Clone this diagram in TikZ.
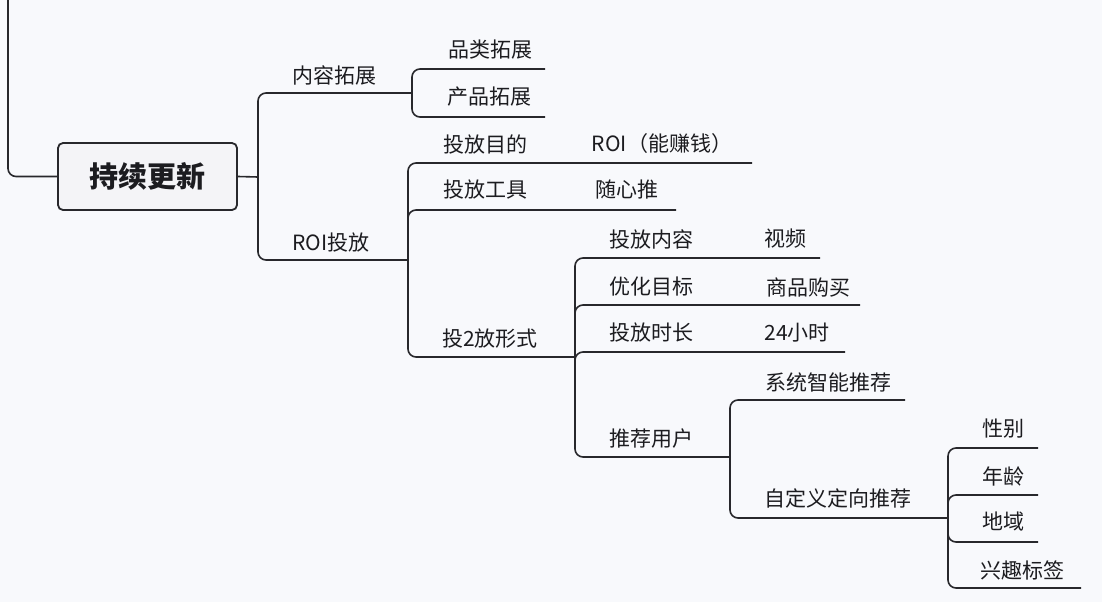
\documentclass[tikz,border=0pt]{standalone}
\usepackage{fontspec}
\setmainfont{Noto Sans CJK SC}
\definecolor{bgc}{RGB}{248,249,252}
\definecolor{linec}{RGB}{40,40,44}
\definecolor{txtc}{RGB}{28,28,32}
\definecolor{boxfill}{RGB}{244,244,247}
\begin{document}
\begin{tikzpicture}[x=1pt,y=-1pt,
  conn/.style={draw=linec, line width=1.6pt, rounded corners=8pt},
  lbl/.style={font=\fontsize{21pt}{25pt}\selectfont, text=txtc, inner sep=0pt},
  rootbox/.style={draw=linec, line width=1.8pt, fill=boxfill, rounded corners=5pt,
    minimum width=179pt, minimum height=67pt, inner sep=0pt,
    font=\fontsize{29pt}{34pt}\selectfont\bfseries, text=txtc}]
\useasboundingbox (0,0) rectangle (1102,602);
\fill[bgc] (0,0) rectangle (1102,602);
% root
\node[rootbox] (root) at (147.5,176.5) {持续更新};
\coordinate (ltop) at (8,-3);
\draw[conn] (ltop) |- (root.west);
\coordinate (j0) at (258,177);
\draw[conn] (root.east) -- (j0);
% level 1
\node[lbl] (nrtz) at (334,75) {内容拓展};
\coordinate (enrtz) at (412,93);
\draw[conn] (j0) |- (enrtz);
\node[lbl] (roitf) at (331,243) {ROI投放};
\coordinate (eroitf) at (408,260);
\draw[conn] (j0) |- (eroitf);
% children of 内容拓展
\node[lbl] (pltz) at (490,50) {品类拓展};
\coordinate (epltz) at (545,69);
\draw[conn] (enrtz) |- (epltz);
\node[lbl] (cptz) at (489,97) {产品拓展};
\coordinate (ecptz) at (545,117);
\draw[conn] (enrtz) |- (ecptz);
% children of ROI投放
\node[lbl] (tfmd) at (485,144) {投放目的};
\node[lbl] (roi) at (662,144) {ROI（能赚钱）};
\coordinate (etfmd) at (752,163);
\draw[conn] (eroitf) |- (etfmd);
\node[lbl] (tfgj) at (485,190) {投放工具};
\node[lbl] (sxt) at (627,190) {随心推};
\coordinate (etfgj) at (676,210);
\draw[conn] (eroitf) |- (etfgj);
\node[lbl] (tfxs) at (490,339) {投2放形式};
\coordinate (etfxs) at (575,357);
\draw[conn] (eroitf) |- (etfxs);
% children of 投2放形式
\node[lbl] (tfnr) at (651,239) {投放内容};
\node[lbl] (sp) at (785,239) {视频};
\coordinate (etfnr) at (820,258);
\draw[conn] (etfxs) |- (etfnr);
\node[lbl] (yhmb) at (651,287) {优化目标};
\node[lbl] (spgm) at (808,287) {商品购买};
\coordinate (eyhmb) at (860,305);
\draw[conn] (etfxs) |- (eyhmb);
\node[lbl] (tfsc) at (651,333) {投放时长};
\node[lbl] (hrs) at (797,333) {24小时};
\coordinate (etfsc) at (845,352);
\draw[conn] (etfxs) |- (etfsc);
\node[lbl] (tjyh) at (651,439) {推荐用户};
\coordinate (etjyh) at (730,457);
\draw[conn] (etfxs) |- (etjyh);
% children of 推荐用户
\node[lbl] (xtzn) at (828,382) {系统智能推荐};
\coordinate (extzn) at (905,400);
\draw[conn] (etjyh) |- (extzn);
\node[lbl] (zdy) at (838,498) {自定义定向推荐};
\coordinate (ezdy) at (948,518);
\draw[conn] (etjyh) |- (ezdy);
% children of 自定义定向推荐
\node[lbl] (xb) at (1003,429) {性别};
\coordinate (exb) at (1038,448);
\draw[conn] (ezdy) |- (exb);
\node[lbl] (nl) at (1003,476) {年龄};
\coordinate (enl) at (1038,495);
\draw[conn] (ezdy) |- (enl);
\node[lbl] (dy) at (1003,522) {地域};
\coordinate (edy) at (1038,542);
\draw[conn] (ezdy) |- (edy);
\node[lbl] (xq) at (1022,570) {兴趣标签};
\coordinate (exq) at (1081,588);
\draw[conn] (ezdy) |- (exq);
\end{tikzpicture}
\end{document}
